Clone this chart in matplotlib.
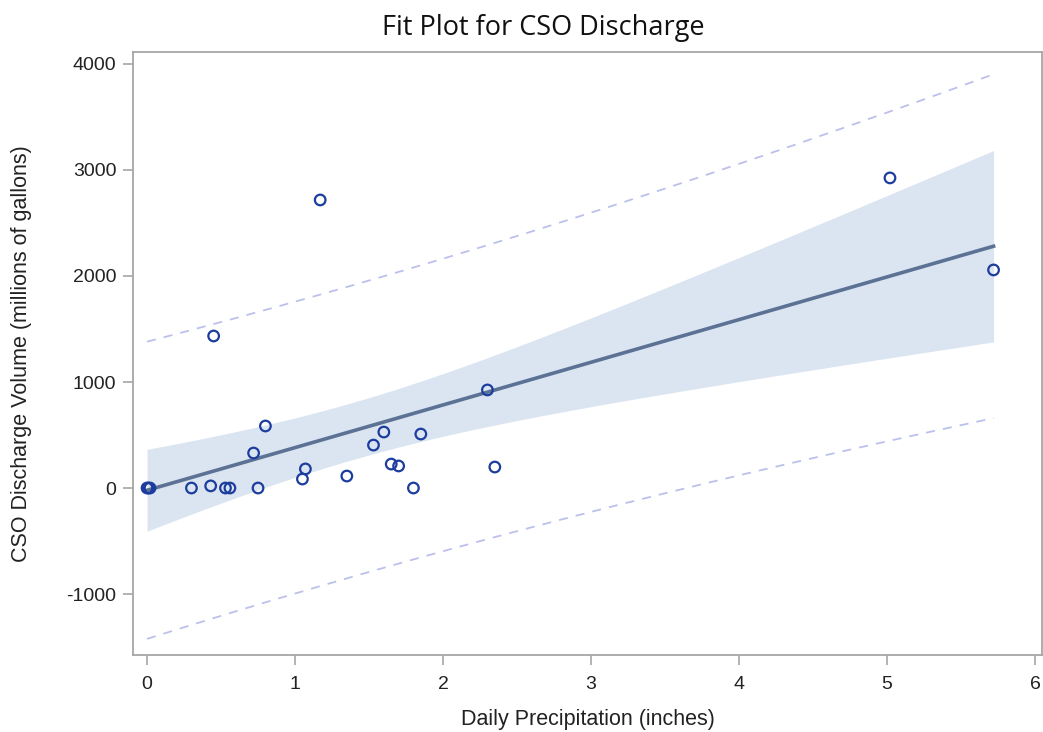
import numpy as np
import matplotlib.pyplot as plt

# daily rainfall (inches) and CSO discharge volume (millions of gallons)
precip = [0.0, 0.01, 0.02, 0.30, 0.43, 0.45, 0.53, 0.56, 0.72, 0.75, 0.80,
          1.05, 1.07, 1.17, 1.35, 1.53, 1.60, 1.65, 1.70, 1.80, 1.85,
          2.30, 2.35, 5.02, 5.72]
discharge = [0, 0, 0, 0, 20, 1434, 0, 0, 330, 0, 585,
             85, 180, 2717, 113, 405, 528, 226, 208, 0, 509,
             925, 198, 2925, 2057]

x = np.array(precip)
y = np.array(discharge)
n = len(x)

# least squares fit with 95% confidence and prediction limits
slope, intercept = np.polyfit(x, y, 1)
resid = y - (intercept + slope * x)
s = np.sqrt(np.sum(resid ** 2) / (n - 2))
t95 = 2.069  # t(0.975, 23)
xs = np.linspace(0, x.max(), 200)
fit = intercept + slope * xs
lev = 1.0 / n + (xs - x.mean()) ** 2 / np.sum((x - x.mean()) ** 2)
ci = t95 * s * np.sqrt(lev)
pi = t95 * s * np.sqrt(1 + lev)

plt.rcParams['font.family'] = ['Liberation Sans', 'DejaVu Sans']
plt.rcParams['axes.unicode_minus'] = False

fig = plt.figure(figsize=(10.43, 7.32), dpi=100)
ax = fig.add_axes([0.1275, 0.1052, 0.8715, 0.8238])

ax.fill_between(xs, fit - ci, fit + ci, color='#dbe4f1', lw=0, zorder=1)
ax.plot(xs, fit, color='#5b7295', lw=2.6, zorder=2)
ax.plot(xs, fit + pi, color='#bcc0ec', lw=1.3, ls=(0, (5, 4.5)), zorder=2)
ax.plot(xs, fit - pi, color='#bcc0ec', lw=1.3, ls=(0, (5, 4.5)), zorder=2)
ax.scatter(x, y, s=58, facecolors='none', edgecolors='#1c3d9e', linewidths=1.6, zorder=3)

ax.set_xlim(-0.095, 6.047)
ax.set_ylim(-1575, 4113)
ax.set_xticks(range(0, 7))
ax.set_yticks([-1000, 0, 1000, 2000, 3000, 4000])

for sp in ax.spines.values():
    sp.set_color('#a6a6a6')
    sp.set_linewidth(1.3)
ax.tick_params(axis='y', pad=5)
ax.tick_params(axis='x', pad=8)
ax.tick_params(direction='out', length=7, width=1.2, color='#a6a6a6',
               labelsize=14, labelcolor='#222222')

ax.set_xlabel('Daily Precipitation (inches)', fontsize=15.5, color='#222222', labelpad=12)
ax.set_ylabel('CSO Discharge Volume (millions of gallons)', fontsize=15.5, color='#222222', labelpad=25)

fig.text(0.521, 0.962, 'Fit Plot for CSO Discharge', ha='center', va='center',
         fontsize=19.5, family=['Open Sans', 'DejaVu Sans'], color='#111111')

fig.savefig('out.png', dpi=100)
